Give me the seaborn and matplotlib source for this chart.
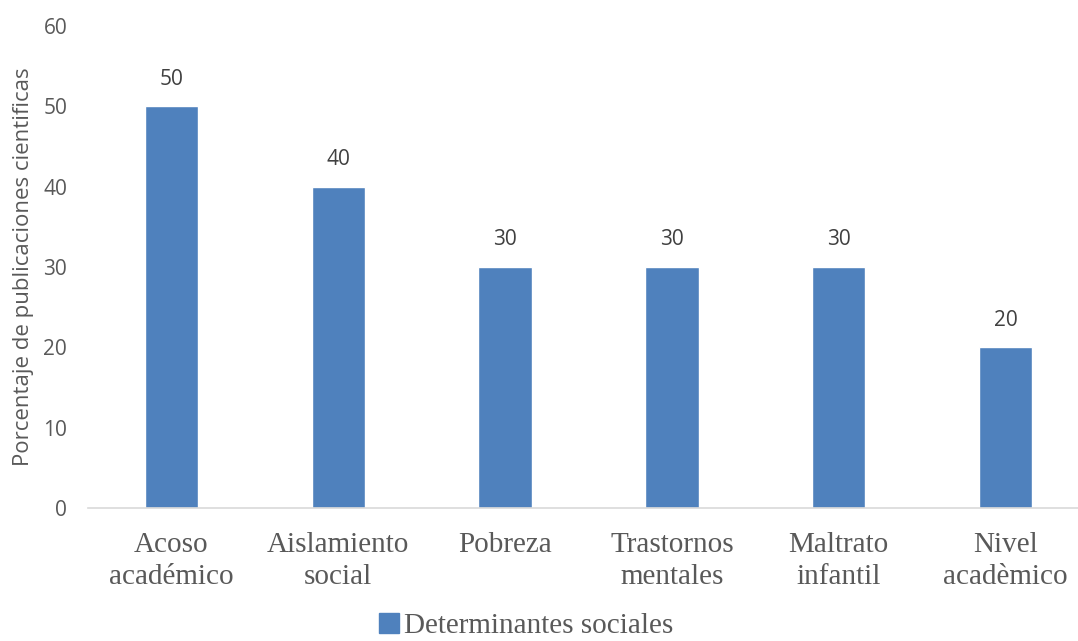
import numpy as np
import pandas as pd
import matplotlib
matplotlib.use("Agg")
import matplotlib.pyplot as plt
import seaborn as sns

categorias = ["Acoso\nacadémico", "Aislamiento\nsocial", "Pobreza",
              "Trastornos\nmentales", "Maltrato\ninfantil", "Nivel\nacadèmico"]
porcentajes = [50, 40, 30, 30, 30, 20]
serie = "Determinantes sociales"
yticks = [0, 10, 20, 30, 40, 50, 60]

df = pd.DataFrame({"categoria": categorias, "porcentaje": porcentajes, "serie": serie})

sns.set_theme(style="white")
plt.rcParams["font.family"] = ["Open Sans", "DejaVu Sans"]

azul = "#4F81BD"
gris = "#595959"
serif = ["Liberation Serif", "DejaVu Serif"]

fig = plt.figure(figsize=(10.78, 6.41), dpi=100)
ax = fig.add_axes([88 / 1078, 133 / 641, 1001 / 1078, 482 / 641])

sns.barplot(data=df, x="categoria", y="porcentaje", hue="serie", palette=[azul],
            width=0.32, ax=ax, saturation=1)

for cont in ax.containers:
    ax.bar_label(cont, padding=12, fontsize=15, color="#404040")

ax.set_ylim(0, 60)
ax.set_yticks(yticks)
ax.set_yticklabels([str(t) for t in yticks], fontsize=15, color=gris)
ax.tick_params(axis="y", length=0, pad=15)
ax.tick_params(axis="x", length=0, pad=17)
for lbl in ax.get_xticklabels():
    lbl.set_family(serif)
    lbl.set_fontsize(21)
    lbl.set_color(gris)
    lbl.set_linespacing(1.3)

ax.set_xlabel("")
ax.set_ylabel("Porcentaje de publicaciones cientificas", fontsize=16, color=gris)
ax.yaxis.set_label_coords(-0.054, 0.5)

for s in ["top", "right", "left"]:
    ax.spines[s].set_visible(False)
ax.spines["bottom"].set_color("#D9D9D9")
ax.spines["bottom"].set_linewidth(1.2)

ax.legend_.remove()
handle = plt.Rectangle((0, 0), 1, 1, color=azul)
fig.legend([handle], [serie], loc="lower center", bbox_to_anchor=(526 / 1078, -0.038),
           frameon=False, handlelength=0.7, handleheight=0.7, handletextpad=0.15,
           prop={"family": serif, "size": 21}, labelcolor=gris)

fig.savefig("out.png", dpi=100)
